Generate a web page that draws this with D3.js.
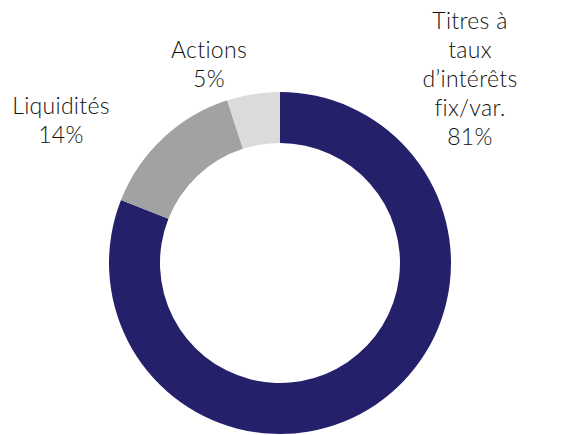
<!DOCTYPE html>
<html>
<head>
<meta charset="utf-8">
<script src="https://cdn.jsdelivr.net/npm/d3@7"></script>
<style>
  html, body { margin: 0; padding: 0; background: #fff; }
  svg text { font-family: Lato, "Open Sans", sans-serif; font-weight: 300; fill: #111; }
</style>
</head>
<body>
<svg id="chart" width="566" height="435"></svg>
<script>
// Portfolio allocation (percent)
const categories = ["Titres à taux d’intérêts fix/var.", "Liquidités", "Actions"];
const values = [81, 14, 5];
const labelLines = [
  ["Titres à", "taux", "d’intérêts", "fix/var."],
  ["Liquidités"],
  ["Actions"]
];
const colors = ["#24216a", "#a1a2a4", "#dbdbdb"];

// label anchor (centre x, first baseline y) per slice
const labelPos = [[470, 29], [61, 114], [209, 58]];
const lineHeight = 29;

const svg = d3.select("#chart");
const cx = 280, cy = 263, rOuter = 171, rInner = 120;

const pie = d3.pie().sort(null).value(d => d)(values);
const arc = d3.arc().innerRadius(rInner).outerRadius(rOuter);
const color = d3.scaleOrdinal().domain(categories).range(colors);

const g = svg.append("g").attr("transform", `translate(${cx},${cy})`);
g.selectAll("path")
  .data(pie)
  .join("path")
  .attr("d", arc)
  .attr("fill", (d, i) => color(categories[i]));

const labels = svg.selectAll("text.lbl")
  .data(pie)
  .join("text")
  .attr("class", "lbl")
  .attr("text-anchor", "middle")
  .attr("font-size", 23)
  .attr("letter-spacing", 0.3);

labels.each(function (d, i) {
  const t = d3.select(this);
  const lines = labelLines[i].concat([d.data + "%"]);
  const [x, y] = labelPos[i];
  lines.forEach((s, k) => {
    t.append("tspan").attr("x", x).attr("y", y + k * lineHeight).text(s);
  });
});
</script>
</body>
</html>
